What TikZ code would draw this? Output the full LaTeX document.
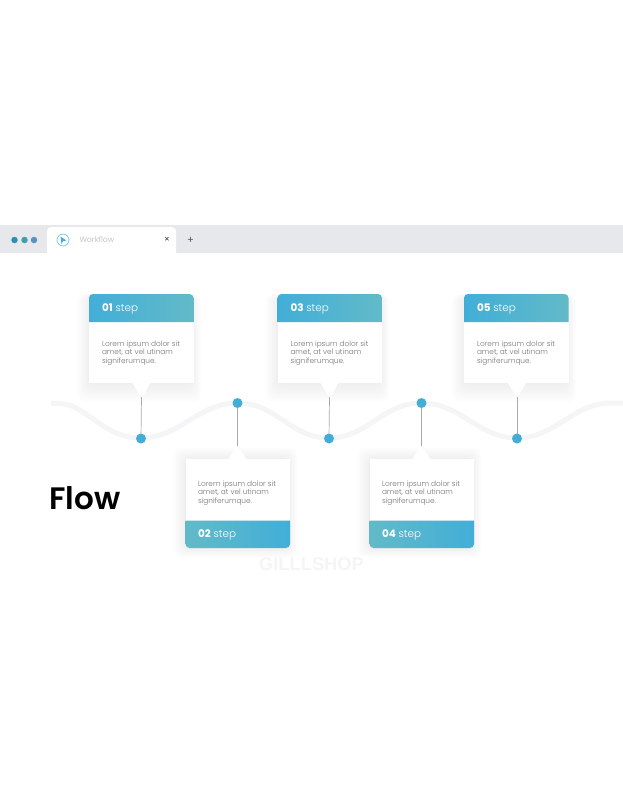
\documentclass[tikz,border=0pt]{standalone}
\usepackage{fontspec}
\setmainfont{Poppins}
\newfontfamily\wmfont{Liberation Sans}
\newfontfamily\poplight{Poppins Light}
\newfontfamily\popsemi{Poppins SemiBold}
\definecolor{barc}{HTML}{E6E8EB}
\definecolor{blueA}{HTML}{42AED8}
\definecolor{tealA}{HTML}{62BAC8}
\definecolor{wavec}{HTML}{F4F5F6}
\definecolor{bodyc}{HTML}{747474}
\definecolor{linec}{HTML}{A8ABAE}
\definecolor{dotA}{HTML}{2E8FB5}
\definecolor{dotB}{HTML}{3E9FA9}
\definecolor{dotC}{HTML}{5B93C0}
\definecolor{iconc}{HTML}{7CC4DE}
\definecolor{tabtext}{HTML}{B8B8B8}
\definecolor{wmc}{HTML}{F5F5F5}
\tikzset{
  x=1pt,y=-1pt,
  every node/.style={inner sep=0pt,outer sep=0pt},
  dotn/.style={circle,fill=blueA,minimum size=10pt},
  stem/.style={draw=linec,line width=0.7pt},
  bodytext/.style={anchor=north west,align=left,text=bodyc,font=\poplight\fontsize{7.35}{8.7}\selectfont},
  steptext/.style={anchor=west,text=white,font=\poplight\fontsize{10.4}{12}\selectfont},
}
% #1 x0, #2 y0, #3 x1, #4 y1, #5 extra above, #6 extra below
\newcommand{\softshadow}[6]{%
  \foreach \k in {1,...,18}{%
    \fill[black,opacity=0.003,rounded corners=8pt]
      (#1-\k*0.8+2,#2-\k*#5/18+2) rectangle (#3+\k*0.6-3,#4+\k*#6/18-2);
  }%
}
\newcommand{\uppercard}[4]{%
  \softshadow{#2}{294}{#2+104.5}{383}{2}{22}
  \fill[white] (#2,320) rectangle (#2+104.5,383);
  \fill[white] (#4-9,383) -- (#4,398) -- (#4+9,383) -- cycle;
  \shade[left color=blueA,right color=tealA]
    (#2,322) -- (#2,298) .. controls (#2,295.8) and (#2+1.8,294) .. (#2+4,294)
    -- (#2+100.5,294) .. controls (#2+102.7,294) and (#2+104.5,295.8) .. (#2+104.5,298)
    -- (#2+104.5,322) -- cycle;
  \node[steptext] (#1h) at (#2+13,309) {{\fontspec{Poppins}\bfseries #3} step};
  \node[bodytext] (#1t) at (#2+13,340.7) {Lorem ipsum dolor sit\\amet, at vel utinam\\signiferumque.};
  \coordinate (#1tip) at (#4,397);
}
\newcommand{\lowercard}[4]{%
  \softshadow{#2}{459}{#2+104.5}{548}{14}{12}
  \fill[white] (#2,459) rectangle (#2+104.5,522);
  \fill[white] (#4-9,459) -- (#4,445) -- (#4+9,459) -- cycle;
  \shade[left color=tealA,right color=blueA]
    (#2,520.5) -- (#2,544) .. controls (#2,546.2) and (#2+1.8,548) .. (#2+4,548)
    -- (#2+100.5,548) .. controls (#2+102.7,548) and (#2+104.5,546.2) .. (#2+104.5,544)
    -- (#2+104.5,520.5) -- cycle;
  \node[steptext] (#1h) at (#2+12.5,535) {{\fontspec{Poppins}\bfseries #3} step};
  \node[bodytext] (#1t) at (#2+12.5,480.7) {Lorem ipsum dolor sit\\amet, at vel utinam\\signiferumque.};
  \coordinate (#1tip) at (#4,446);
}
\begin{document}
\begin{tikzpicture}
\useasboundingbox (0,0) rectangle (623,800);
\fill[white] (0,0) rectangle (623,800);
% browser bar
\fill[barc] (0,225) rectangle (623,253);
\fill[white] (47,254) -- (47,231) .. controls (47,228.8) and (48.8,227) .. (51,227)
  -- (172,227) .. controls (174.2,227) and (176,228.8) .. (176,231) -- (176,254) -- cycle;
\node[circle,fill=dotA,minimum size=6.5pt] (d1) at (14.5,240) {};
\node[circle,fill=dotB,minimum size=6.5pt] (d2) at (24.5,240) {};
\node[circle,fill=dotC,minimum size=6.5pt] (d3) at (34,240) {};
\node[circle,draw=iconc,line width=0.7pt,minimum size=12pt] (icon) at (63,240) {};
\fill[blueA] (60.5,236.5) -- (66.5,240.5) -- (63,241) -- (61.5,244) -- cycle;
\node[anchor=west,text=tabtext,font=\poplight\fontsize{7.8}{9}\selectfont] (tabt) at (79.5,240) {Workflow};
\node[text=black!75,font=\fontsize{9}{9}\selectfont] (tabx) at (167,240) {×};
\node[text=black!65,font=\fontsize{10}{9}\selectfont] (tabp) at (190.5,240) {+};
% cards
\uppercard{cA}{89}{01}{141.5}
\uppercard{cC}{277.5}{03}{329.5}
\uppercard{cE}{464}{05}{517}
\lowercard{cB}{185.5}{02}{237.5}
\lowercard{cD}{369.5}{04}{421.5}
% wave
\draw[wavec,line width=5pt]
  (51,403.5) .. controls (60,403) and (66,403.5) .. (74,407)
  .. controls (95,417) and (110,438) .. (141,438)
  .. controls (180,438) and (198,403) .. (237.5,403)
  .. controls (277,403) and (290,438) .. (329,438)
  .. controls (368,438) and (382,403) .. (421.5,403)
  .. controls (461,403) and (478,438) .. (517,438)
  .. controls (556,438) and (572,403) .. (612,403)
  -- (623,403);
% dots
\node[dotn] (nA) at (141,438.5) {};
\node[dotn] (nB) at (237.5,403) {};
\node[dotn] (nC) at (329,438.5) {};
\node[dotn] (nD) at (421.5,403) {};
\node[dotn] (nE) at (517,438.5) {};
\draw[stem] (cAtip) -- (nA);
\draw[stem] (cBtip) -- (nB);
\draw[stem] (cCtip) -- (nC);
\draw[stem] (cDtip) -- (nD);
\draw[stem] (cEtip) -- (nE);
% titles
\node[anchor=base west,text=black,font=\popsemi\fontsize{31}{32}\selectfont] (title) at (49.5,509) {Flow};
\node[anchor=base,text=wmc,font=\wmfont\fontsize{18.3}{20}\selectfont\bfseries] (wm) at (311.5,570.5) {GILLLSHOP};
\end{tikzpicture}
\end{document}
